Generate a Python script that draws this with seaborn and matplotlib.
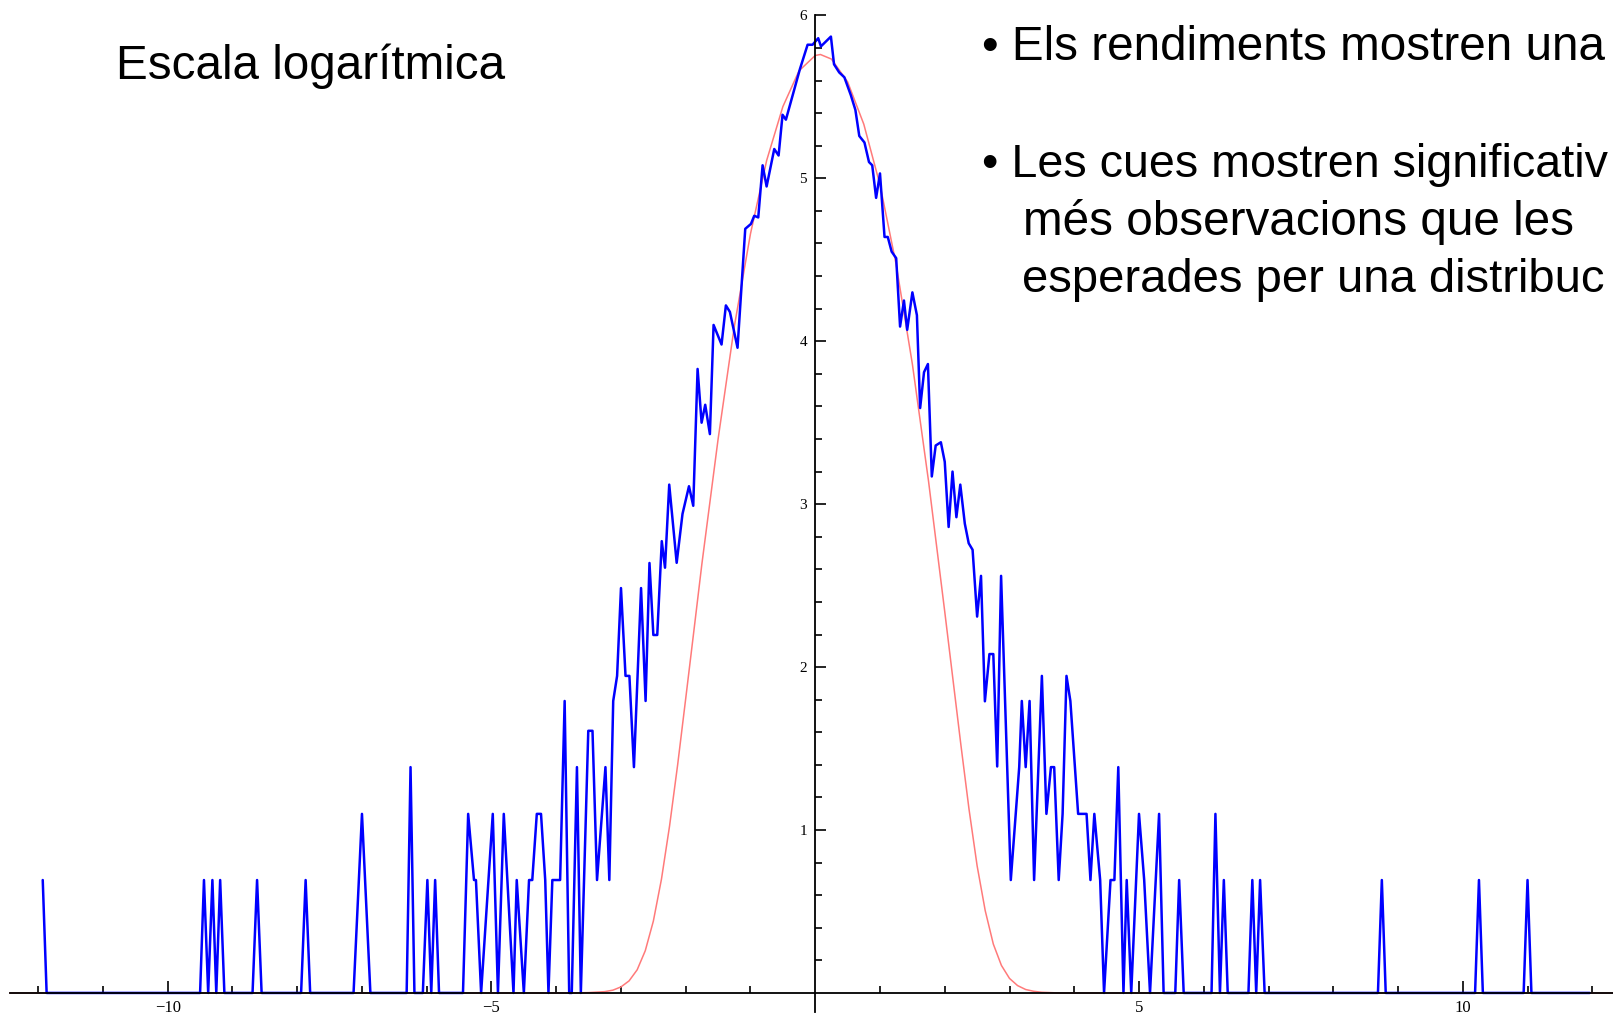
import numpy as np
import pandas as pd
import matplotlib
matplotlib.use("Agg")
import matplotlib.pyplot as plt
import seaborn as sns
from matplotlib.ticker import FixedLocator

# ---------------- data ----------------
# blue: log of histogram counts (vertices of the jagged line)
blue_x = [-11.93, -11.87,
          -9.50, -9.44, -9.375, -9.31, -9.25, -9.19, -9.125,
          -8.69, -8.62, -8.55,
          -7.94, -7.87, -7.80,
          -7.13, -7.0, -6.87,
          -6.31, -6.25, -6.19,
          -6.06, -5.99, -5.93, -5.87, -5.81,
          -5.44, -5.36, -5.27, -5.24, -5.16, -4.98, -4.90, -4.81, -4.66, -4.61,
          -4.50, -4.42, -4.37, -4.30, -4.235, -4.17, -4.12, -4.06, -3.94, -3.87,
          -3.80, -3.76, -3.68, -3.62, -3.505, -3.44, -3.37, -3.24, -3.18, -3.12,
          -3.06, -3.0, -2.93, -2.87, -2.80, -2.69, -2.62, -2.56, -2.50, -2.44,
          -2.37, -2.32, -2.255, -2.14, -2.05, -1.95, -1.884, -1.817, -1.755, -1.699,
          -1.627, -1.570, -1.447, -1.380, -1.318, -1.200, -1.081, -0.993, -0.942, -0.880,
          -0.813, -0.751, -0.633, -0.566, -0.505, -0.453, -0.237, -0.118, -0.041, 0.046,
          0.088, 0.165, 0.242, 0.29, 0.37, 0.45, 0.55, 0.62, 0.68, 0.76,
          0.83, 0.88, 0.94, 1.0, 1.07, 1.12, 1.18, 1.25, 1.31, 1.37,
          1.42, 1.50, 1.57, 1.62, 1.68, 1.74, 1.80, 1.86, 1.94, 2.00,
          2.06, 2.12, 2.18, 2.24, 2.31, 2.37, 2.43, 2.50, 2.56, 2.62,
          2.69, 2.75, 2.81, 2.87, 3.02, 3.15, 3.19, 3.25, 3.31, 3.38,
          3.50, 3.57, 3.64, 3.69, 3.76, 3.82, 3.88, 3.94, 4.06, 4.19,
          4.25, 4.31, 4.40, 4.46, 4.56, 4.62, 4.68, 4.76, 4.81, 4.88,
          5.0, 5.08, 5.17, 5.31, 5.38, 5.56, 5.62, 5.69, 6.12, 6.18,
          6.25, 6.31, 6.37, 6.69, 6.75, 6.81, 6.87, 6.94, 8.69, 8.75,
          8.81, 10.19, 10.25, 10.31, 10.94, 11.0, 11.06, 11.96]
blue_y = [0.693, 0,
          0, 0.693, 0, 0.693, 0, 0.693, 0,
          0, 0.693, 0,
          0, 0.693, 0,
          0, 1.099, 0,
          0, 1.386, 0,
          0, 0.693, 0, 0.693, 0,
          0, 1.099, 0.693, 0.693, 0, 1.099, 0, 1.099, 0, 0.693,
          0, 0.693, 0.693, 1.099, 1.099, 0.693, 0, 0.693, 0.693, 1.792,
          0, 0, 1.386, 0, 1.609, 1.609, 0.693, 1.386, 0.693, 1.792,
          1.946, 2.485, 1.946, 1.946, 1.386, 2.485, 1.792, 2.639, 2.197, 2.197,
          2.773, 2.61, 3.12, 2.64, 2.94, 3.11, 2.99, 3.83, 3.50, 3.61,
          3.43, 4.10, 3.98, 4.22, 4.18, 3.96, 4.69, 4.72, 4.77, 4.76,
          5.08, 4.95, 5.18, 5.14, 5.39, 5.36, 5.67, 5.82, 5.82, 5.86,
          5.81, 5.84, 5.87, 5.70, 5.65, 5.62, 5.51, 5.42, 5.26, 5.22,
          5.10, 5.08, 4.88, 5.03, 4.64, 4.64, 4.55, 4.51, 4.09, 4.25,
          4.07, 4.30, 4.16, 3.59, 3.81, 3.86, 3.17, 3.36, 3.38, 3.26,
          2.86, 3.20, 2.92, 3.12, 2.88, 2.76, 2.72, 2.31, 2.56, 1.79,
          2.08, 2.08, 1.39, 2.56, 0.693, 1.386, 1.792, 1.386, 1.792, 0.693,
          1.946, 1.099, 1.386, 1.386, 0.693, 1.099, 1.946, 1.792, 1.099, 1.099,
          0.693, 1.099, 0.693, 0, 0.693, 0.693, 1.386, 0, 0.693, 0,
          1.099, 0.693, 0, 1.099, 0, 0, 0.693, 0, 0, 1.099,
          0, 0.693, 0, 0, 0.693, 0, 0.693, 0, 0, 0.693,
          0, 0, 0.693, 0, 0, 0.693, 0, 0]

# red: fitted normal curve on the same log scale
red_x = [-12.44, -3.75, -3.5, -3.25, -3.125, -3.0, -2.875, -2.75, -2.625, -2.5,
         -2.375, -2.25, -2.125, -2.0, -1.875, -1.75, -1.5, -1.25, -1.0, -0.75,
         -0.5, -0.25, 0.0, 0.08, 0.25, 0.5, 0.75, 1.0, 1.25, 1.5,
         1.75, 2.0, 2.125, 2.25, 2.375, 2.5, 2.625, 2.75, 2.875, 3.0,
         3.125, 3.25, 3.375, 3.5, 3.75, 12.32]
red_y = [0, 0.0, 0.002, 0.008, 0.017, 0.037, 0.074, 0.142, 0.259, 0.441,
         0.698, 1.024, 1.40, 1.808, 2.22, 2.635, 3.40, 4.09, 4.66, 5.11,
         5.44, 5.66, 5.754, 5.76, 5.732, 5.592, 5.332, 4.96, 4.47, 3.86,
         3.14, 2.34, 1.93, 1.52, 1.127, 0.78, 0.505, 0.30, 0.169, 0.089,
         0.045, 0.021, 0.010, 0.004, 0.0, 0]

x_major_ticks = [-10, -5, 5, 10]
x_major_labels = ["\u221210", "\u22125", "5", "10"]
x_minor_ticks = [-12, -11, -9, -8, -7, -6, -4, -3, -2, -1,
                 1, 2, 3, 4, 6, 7, 8, 9, 11, 12]
y_major_ticks = [1, 2, 3, 4, 5, 6]
y_major_labels = ["1", "2", "3", "4", "5", "6"]
y_minor_ticks = [0.2, 0.4, 0.6, 0.8, 1.2, 1.4, 1.6, 1.8, 2.2, 2.4, 2.6, 2.8,
                 3.2, 3.4, 3.6, 3.8, 4.2, 4.4, 4.6, 4.8, 5.2, 5.4, 5.6, 5.8]

title_text = "Escala logarítmica"
# text as visible in the reference (cut at the slide's right edge)
bullet_lines = ["\u2022 Els rendiments mostren una",
                "\u2022 Les cues mostren significativ",
                "més observacions que les",
                "esperades per una distribuc"]

# ---------------- plotting ----------------
sns.set_theme(style="white")
plt.rcParams["font.family"] = ["Liberation Sans", "DejaVu Sans"]

W, H = 1613, 1019
fig = plt.figure(figsize=(W / 100, H / 100), dpi=100, facecolor="white")
ax = fig.add_axes([0, 0, 1, 0.98489])
ax.set_facecolor("white")

df_red = pd.DataFrame({"x": red_x, "y": red_y})
df_blue = pd.DataFrame({"x": blue_x, "y": blue_y})
sns.lineplot(data=df_red, x="x", y="y", ax=ax, color="#ff7a7a", lw=1.1,
             sort=False, estimator=None, zorder=2)
sns.lineplot(data=df_blue, x="x", y="y", ax=ax, color="#0000ff", lw=1.8,
             sort=False, estimator=None, zorder=3)

ax.set_xlim(-12.59, 12.32)
ax.set_ylim(-0.16, 6.0)
ax.set_xlabel("")
ax.set_ylabel("")

for side in ["top", "right"]:
    ax.spines[side].set_visible(False)
ax.spines["left"].set_position(("data", 0))
ax.spines["bottom"].set_position(("data", 0))
ax.spines["left"].set_bounds(-0.12, 6.0)
ax.spines["bottom"].set_bounds(-12.44, 12.32)
for side in ["left", "bottom"]:
    ax.spines[side].set_color("black")
    ax.spines[side].set_linewidth(1.3)
    ax.spines[side].set_zorder(4)

ax.xaxis.set_major_locator(FixedLocator(x_major_ticks))
ax.xaxis.set_minor_locator(FixedLocator(x_minor_ticks))
ax.set_xticklabels(x_major_labels)
ax.yaxis.set_major_locator(FixedLocator(y_major_ticks))
ax.yaxis.set_minor_locator(FixedLocator(y_minor_ticks))
ax.set_yticklabels(y_major_labels)

ax.tick_params(axis="x", which="major", direction="in", length=9, width=1.2,
               bottom=True, color="black", labelsize=12, pad=5,
               labelfontfamily="Liberation Serif", labelcolor="black")
ax.tick_params(axis="x", which="minor", direction="in", length=5, width=1.2,
               bottom=True, color="black")
ax.tick_params(axis="y", which="major", direction="in", length=8, width=1.2,
               left=True, color="black", labelsize=11, pad=6,
               labelfontfamily="Liberation Serif", labelcolor="black")
ax.tick_params(axis="y", which="minor", direction="in", length=5, width=1.2,
               left=True, color="black")
ax.grid(False)

# ---------------- overlaid text ----------------
fs = 34.3
def fx(px):
    return px / W
def fy(px):
    return 1 - px / H

fig.text(fx(116), fy(79), title_text, fontsize=fs, ha="left", va="baseline",
         color="black")
fig.text(fx(982), fy(60), bullet_lines[0], fontsize=fs, ha="left", va="baseline",
         color="black")
fig.text(fx(982), fy(177), bullet_lines[1], fontsize=33.6, ha="left", va="baseline",
         color="black")
fig.text(fx(1023), fy(235), bullet_lines[2], fontsize=fs, ha="left", va="baseline",
         color="black")
fig.text(fx(1022), fy(292), bullet_lines[3], fontsize=34.0, ha="left", va="baseline",
         color="black")

fig.savefig("out.png", dpi=100, facecolor="white")
